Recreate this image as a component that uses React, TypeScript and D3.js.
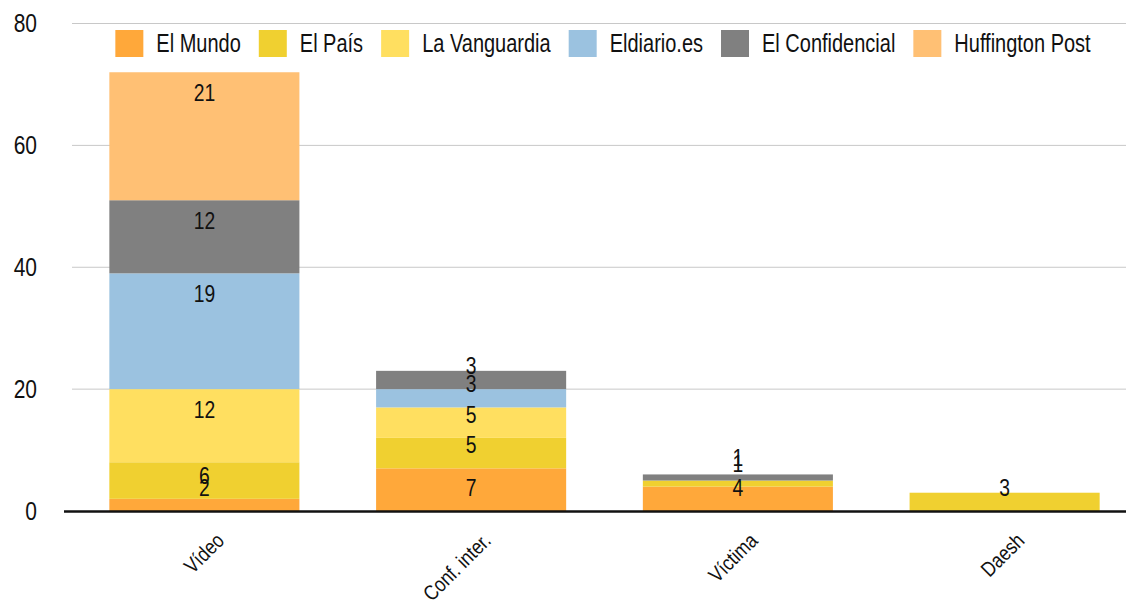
import React, { useEffect, useRef } from "react";
import * as d3 from "d3";

const categories = ["Vídeo", "Conf. inter.", "Víctima", "Daesh"];
const seriesNames = ["El Mundo", "El País", "La Vanguardia", "Eldiario.es", "El Confidencial", "Huffington Post"];
const seriesColors = ["#FFA83A", "#F0D030", "#FFDF60", "#9BC2E0", "#808080", "#FFC074"];

// values per series, one per category
const elMundo = [2, 7, 4, 0];
const elPais = [6, 5, 1, 3];
const laVanguardia = [12, 5, 0, 0];
const eldiario = [19, 3, 0, 0];
const elConfidencial = [12, 3, 1, 0];
const huffington = [21, 0, 0, 0];

const yTicks = [0, 20, 40, 60, 80];

// no condensed font installed, so squeeze Liberation Sans horizontally
const FONT = "'Liberation Sans', Arial, sans-serif";
const SQUEEZE = 0.84;

export default function App() {
  const svgRef = useRef<SVGSVGElement>(null);

  useEffect(() => {
    const svg = d3.select(svgRef.current);
    svg.selectAll("*").remove();

    const width = 1126;
    const plotLeft = 72;

    const addText = (parent: any, transform: string, txt: string | number, size: number, anchor: string, sq = SQUEEZE) =>
      parent
        .append("g")
        .attr("transform", `${transform} scale(${sq},1)`)
        .append("text")
        .attr("dy", "0.35em")
        .attr("text-anchor", anchor)
        .attr("font-family", FONT)
        .attr("font-size", size)
        .attr("fill", "#111")
        .text(txt);

    const allSeries = [elMundo, elPais, laVanguardia, eldiario, elConfidencial, huffington];
    const table = categories.map((c, i) => {
      const row: any = { cat: c };
      seriesNames.forEach((s, j) => (row[s] = allSeries[j][i]));
      return row;
    });
    const stacked = d3.stack().keys(seriesNames)(table);

    const x = d3
      .scaleBand()
      .domain(categories)
      .range([71, 1138])
      .paddingInner(0.2875)
      .paddingOuter(0.14375);

    const y = d3.scaleLinear().domain([0, 80]).range([511, 23.5]);

    // grid
    svg
      .append("g")
      .selectAll("line")
      .data(yTicks.filter((t) => t > 0))
      .enter()
      .append("line")
      .attr("x1", plotLeft)
      .attr("x2", width)
      .attr("y1", (d) => y(d))
      .attr("y2", (d) => y(d))
      .attr("stroke", "#c8c8c8")
      .attr("stroke-width", 1);

    // y tick labels
    const yAxis = svg.append("g");
    yTicks.forEach((t) => addText(yAxis, `translate(37,${y(t)})`, t, 25, "end"));

    // bars
    const layers = svg
      .append("g")
      .selectAll("g")
      .data(stacked)
      .enter()
      .append("g")
      .attr("fill", (d, i) => seriesColors[i]);

    layers
      .selectAll("rect")
      .data((d) => d.filter((p) => p[1] - p[0] > 0))
      .enter()
      .append("rect")
      .attr("x", (d: any) => x(d.data.cat)!)
      .attr("width", x.bandwidth())
      .attr("y", (d) => y(d[1]))
      .attr("height", (d) => y(d[0]) - y(d[1]));

    // baseline
    svg
      .append("line")
      .attr("x1", 64)
      .attr("x2", width)
      .attr("y1", y(0) + 0.5)
      .attr("y2", y(0) + 0.5)
      .attr("stroke", "#111")
      .attr("stroke-width", 2.5);

    // data labels
    const labels = svg.append("g");
    stacked.forEach((layer) => {
      layer.forEach((p: any) => {
        const v = p[1] - p[0];
        if (v <= 0) return;
        const ly = Math.min(y(p[0]) - 23, y(p[1]) + 21);
        addText(labels, `translate(${x(p.data.cat)! + x.bandwidth() / 2},${ly})`, v, 23, "middle");
      });
    });

    // x labels
    const xAxis = svg.append("g");
    categories.forEach((c) => {
      xAxis
        .append("g")
        .attr("transform", `translate(${x(c)! + x.bandwidth() / 2 + 21},${y(0) + 31}) rotate(-45) scale(${SQUEEZE},1)`)
        .append("text")
        .attr("text-anchor", "end")
        .attr("font-family", FONT)
        .attr("font-size", 21)
        .attr("fill", "#111")
        .text(c);
    });

    // legend
    const legend = svg.append("g");
    const legendSq = 0.8;
    const items = seriesNames.map((name, i) => {
      const g = legend.append("g");
      g.append("rect").attr("width", 28).attr("height", 27).attr("y", 30).attr("fill", seriesColors[i]);
      const t = addText(g, `translate(41,43.5)`, name, 25, "start", legendSq);
      const w = (t.node() as SVGTextElement).getComputedTextLength() * legendSq;
      return { g, w: 41 + w };
    });
    const gap = 18;
    const total = d3.sum(items, (d) => d.w) + gap * (items.length - 1);
    let cx = 603 - total / 2;
    items.forEach((it) => {
      it.g.attr("transform", `translate(${cx},0)`);
      cx += it.w + gap;
    });
  }, []);

  return (
    <svg
      ref={svgRef}
      width={1126}
      height={600}
      style={{ position: "absolute", left: 0, top: 0, background: "#fff" }}
    />
  );
}
